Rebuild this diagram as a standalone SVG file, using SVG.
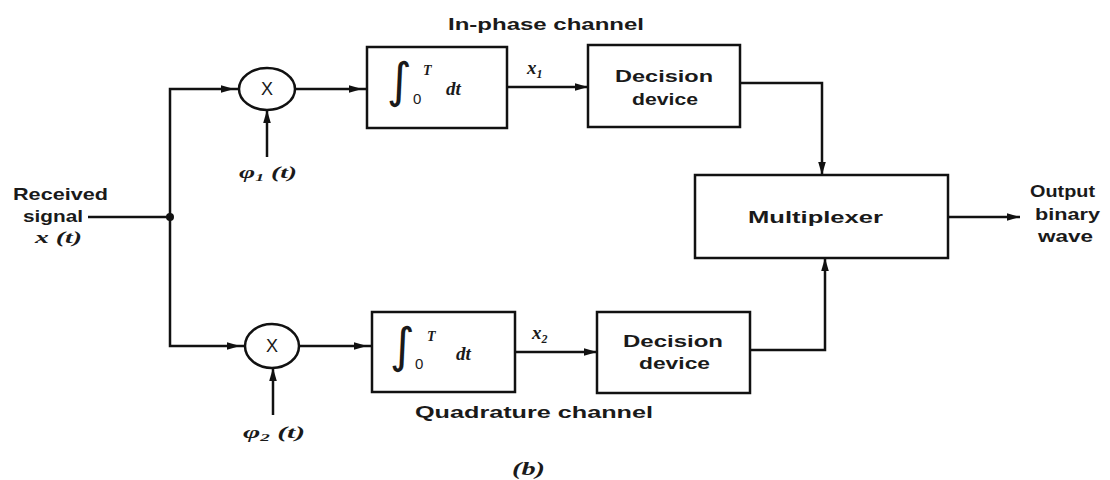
<svg xmlns="http://www.w3.org/2000/svg" width="1110" height="480" viewBox="0 0 1110 480">
<style>
.bg{fill:#ffffff}
.box{fill:none;stroke:#111;stroke-width:2.5}
.wire{fill:none;stroke:#111;stroke-width:2.5}
.lbl{font-family:"Liberation Sans",Arial,sans-serif;font-weight:bold;font-size:16.5px;fill:#1a1a1a}
.thin{font-family:"Liberation Sans",Arial,sans-serif;font-weight:normal;fill:#1a1a1a}
.math{font-family:"Liberation Serif","Times New Roman",serif;font-style:italic;font-weight:bold;fill:#1a1a1a}
.intg{font-family:"DejaVu Sans",sans-serif;fill:#1a1a1a}
</style>
<defs>
<marker id="arr" markerUnits="userSpaceOnUse" markerWidth="30" markerHeight="12" viewBox="0 0 30 12" refX="18" refY="6" orient="auto">
<path d="M0,2.2 L13,6 L0,9.8 Z" fill="#111"/>
</marker>
<marker id="arr0" markerUnits="userSpaceOnUse" markerWidth="16" markerHeight="12" viewBox="0 0 16 12" refX="13" refY="6" orient="auto">
<path d="M0,2.2 L13,6 L0,9.8 Z" fill="#111"/>
</marker>
</defs>
<rect class="bg" x="0" y="0" width="1110" height="480"/>

<g id="connectors">
<path class="wire" d="M88,217 H170"/>
<path class="wire" d="M170,217 V89 H239" marker-end="url(#arr)"/>
<path class="wire" d="M170,217 V346 H245" marker-end="url(#arr)"/>
<path class="wire" d="M295,89 H367" marker-end="url(#arr)"/>
<path class="wire" d="M507,87 H588" marker-end="url(#arr0)"/>
<path class="wire" d="M740,83 H822 V175" marker-end="url(#arr0)"/>
<path class="wire" d="M948,217 H1020" marker-end="url(#arr0)"/>
<path class="wire" d="M267,157 V110" marker-end="url(#arr0)"/>
<path class="wire" d="M300,346 H372" marker-end="url(#arr)"/>
<path class="wire" d="M515,352 H597" marker-end="url(#arr0)"/>
<path class="wire" d="M750,350 H825 V258" marker-end="url(#arr0)"/>
<path class="wire" d="M273,415 V368" marker-end="url(#arr0)"/>
<circle cx="170" cy="217" r="4" fill="#111"/>
<text class="math" x="527" y="74" font-size="19">x<tspan font-size="12" dy="4">1</tspan></text>
<text class="math" x="532" y="339" font-size="19">x<tspan font-size="12" dy="4">2</tspan></text>
</g>

<g id="input">
<text class="lbl" x="13" y="200" textLength="95" lengthAdjust="spacingAndGlyphs">Received</text>
<text class="lbl" x="23" y="222" textLength="60" lengthAdjust="spacingAndGlyphs">signal</text>
<text class="math" x="35" y="243" font-size="17" textLength="47" lengthAdjust="spacingAndGlyphs">x (t)</text>
</g>

<g id="mult1">
<ellipse class="box" cx="267" cy="89" rx="28" ry="21"/>
<text class="thin" x="267" y="95" text-anchor="middle" font-size="18">X</text>
<text class="math" x="239" y="178" font-size="17" textLength="58" lengthAdjust="spacingAndGlyphs">φ<tspan font-size="11" dy="3">1</tspan><tspan dy="-3"> (t)</tspan></text>
</g>

<g id="mult2">
<ellipse class="box" cx="272" cy="346" rx="27" ry="22"/>
<text class="thin" x="272" y="352" text-anchor="middle" font-size="18">X</text>
<text class="math" x="243" y="438" font-size="17" textLength="62" lengthAdjust="spacingAndGlyphs">φ<tspan font-size="11" dy="3">2</tspan><tspan dy="-3"> (t)</tspan></text>
</g>

<g id="integrator1">
<rect class="box" x="367" y="47" width="140" height="81"/>
<text class="intg" x="387" y="97" font-size="48">∫</text>
<text class="thin" x="413" y="104" font-size="15">0</text>
<text class="math" x="423" y="75" font-size="14">T</text>
<text class="math" x="446" y="95" font-size="19">dt</text>
</g>

<g id="integrator2">
<rect class="box" x="372" y="312" width="143" height="80"/>
<text class="intg" x="390" y="362" font-size="48">∫</text>
<text class="thin" x="415" y="369" font-size="15">0</text>
<text class="math" x="427" y="341" font-size="14">T</text>
<text class="math" x="456" y="360" font-size="19">dt</text>
</g>

<g id="decision1">
<rect class="box" x="588" y="45" width="152" height="82"/>
<text class="lbl" x="615" y="82" textLength="98" lengthAdjust="spacingAndGlyphs">Decision</text>
<text class="lbl" x="632" y="105" textLength="66" lengthAdjust="spacingAndGlyphs">device</text>
</g>

<g id="decision2">
<rect class="box" x="597" y="312" width="153" height="81"/>
<text class="lbl" x="623" y="347" textLength="100" lengthAdjust="spacingAndGlyphs">Decision</text>
<text class="lbl" x="639" y="369" textLength="71" lengthAdjust="spacingAndGlyphs">device</text>
</g>

<g id="multiplexer">
<rect class="box" x="695" y="175" width="253" height="83"/>
<text class="lbl" x="748" y="223" textLength="135" lengthAdjust="spacingAndGlyphs">Multiplexer</text>
</g>

<g id="output">
<text class="lbl" x="1030" y="197" textLength="65" lengthAdjust="spacingAndGlyphs">Output</text>
<text class="lbl" x="1035" y="220" textLength="65" lengthAdjust="spacingAndGlyphs">binary</text>
<text class="lbl" x="1038" y="242" textLength="55" lengthAdjust="spacingAndGlyphs">wave</text>
</g>

<g id="labels">
<text class="lbl" x="448" y="30" textLength="196" lengthAdjust="spacingAndGlyphs">In-phase channel</text>
<text class="lbl" x="415" y="418" textLength="238" lengthAdjust="spacingAndGlyphs">Quadrature channel</text>
<text class="math" x="512" y="475" font-size="18" textLength="33" lengthAdjust="spacingAndGlyphs">(b)</text>
</g>
</svg>
